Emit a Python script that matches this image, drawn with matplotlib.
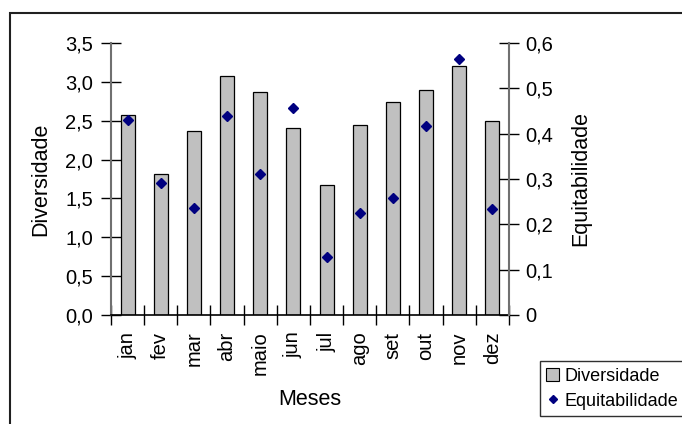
import matplotlib.pyplot as plt
from matplotlib.patches import Rectangle, Patch
from matplotlib.lines import Line2D
from matplotlib.ticker import FuncFormatter, FixedLocator

plt.rcParams['font.family'] = ['Liberation Sans', 'DejaVu Sans']

# Dados
meses = ["jan", "fev", "mar", "abr", "maio", "jun", "jul", "ago", "set", "out", "nov", "dez"]
diversidade = [2.57, 1.82, 2.37, 3.07, 2.87, 2.40, 1.67, 2.44, 2.74, 2.89, 3.20, 2.50]
equitabilidade = [0.431, 0.292, 0.236, 0.438, 0.311, 0.456, 0.129, 0.226, 0.258, 0.418, 0.565, 0.233]

fig = plt.figure(figsize=(6.82, 4.24), dpi=100)
# moldura externa
fig.patches.append(Rectangle((10 / 682, -0.1), 1.2, 1 - 12.7 / 424 + 0.1,
                             transform=fig.transFigure, fill=False,
                             edgecolor='#202020', linewidth=1.5))

ax = fig.add_axes([111 / 682, 1 - 315 / 424, (509 - 111) / 682, (315 - 43) / 424])
x = range(len(meses))
ax.bar(x, diversidade, width=0.42, color='#C0C0C0', edgecolor='black', linewidth=0.9, zorder=2)
ax.set_xlim(-0.5, len(meses) - 0.5)
ax.set_ylim(0, 3.5)
ax.set_yticks([0, 0.5, 1, 1.5, 2, 2.5, 3, 3.5])
ax.yaxis.set_major_formatter(FuncFormatter(lambda v, p: f"{v:.1f}".replace('.', ',')))
ax.set_xticks(list(x))
ax.set_xticklabels(meses, rotation=90, fontsize=14.5)
ax.tick_params(axis='x', which='major', length=0, pad=12)
ax.xaxis.set_minor_locator(FixedLocator([i - 0.5 for i in range(len(meses) + 1)]))
ax.tick_params(axis='x', which='minor', direction='inout', length=14, width=1.0, color='black')
ax.tick_params(axis='y', direction='inout', length=14, width=1.0, labelsize=14.5, pad=6, color='black')
ax.spines['top'].set_visible(False)
ax.spines['right'].set_visible(False)
ax.spines['left'].set_color('#707070')
ax.spines['left'].set_linewidth(1.5)
ax.spines['bottom'].set_color('black')
ax.spines['bottom'].set_linewidth(1.2)
ax.set_ylabel("Diversidade", fontsize=15.5, labelpad=10)
ax.set_xlabel("Meses", fontsize=15.5, labelpad=10)

ax2 = ax.twinx()
ax2.plot(list(x), equitabilidade, linestyle='none', marker='D', markersize=5,
         color='#000080', zorder=3)
ax2.set_ylim(0, 0.6)
ax2.set_yticks([0, 0.1, 0.2, 0.3, 0.4, 0.5, 0.6])
ax2.yaxis.set_major_formatter(FuncFormatter(lambda v, p: "0" if v == 0 else f"{v:.1f}".replace('.', ',')))
ax2.tick_params(axis='y', direction='inout', length=14, width=1.0, labelsize=14.5, pad=5, color='black')
for s in ['top', 'left', 'bottom']:
    ax2.spines[s].set_visible(False)
ax2.spines['right'].set_color('#707070')
ax2.spines['right'].set_linewidth(1.5)
ax2.set_ylabel("Equitabilidade", fontsize=15.5, labelpad=12)

handles = [Patch(facecolor='#C0C0C0', edgecolor='black', linewidth=0.8),
           Line2D([], [], linestyle='none', marker='D', markersize=4, color='#000080')]
leg = fig.legend(handles, ["Diversidade", "Equitabilidade"], loc='lower left',
                 bbox_to_anchor=(540 / 682, 1 - 416 / 424), fontsize=13,
                 handlelength=0.7, handleheight=0.7, handletextpad=0.3,
                 borderpad=0.35, labelspacing=0.45, fancybox=False, framealpha=1,
                 borderaxespad=0)
leg.get_frame().set_edgecolor('#303030')
leg.get_frame().set_linewidth(1.0)

fig.savefig("out.png", dpi=100)
